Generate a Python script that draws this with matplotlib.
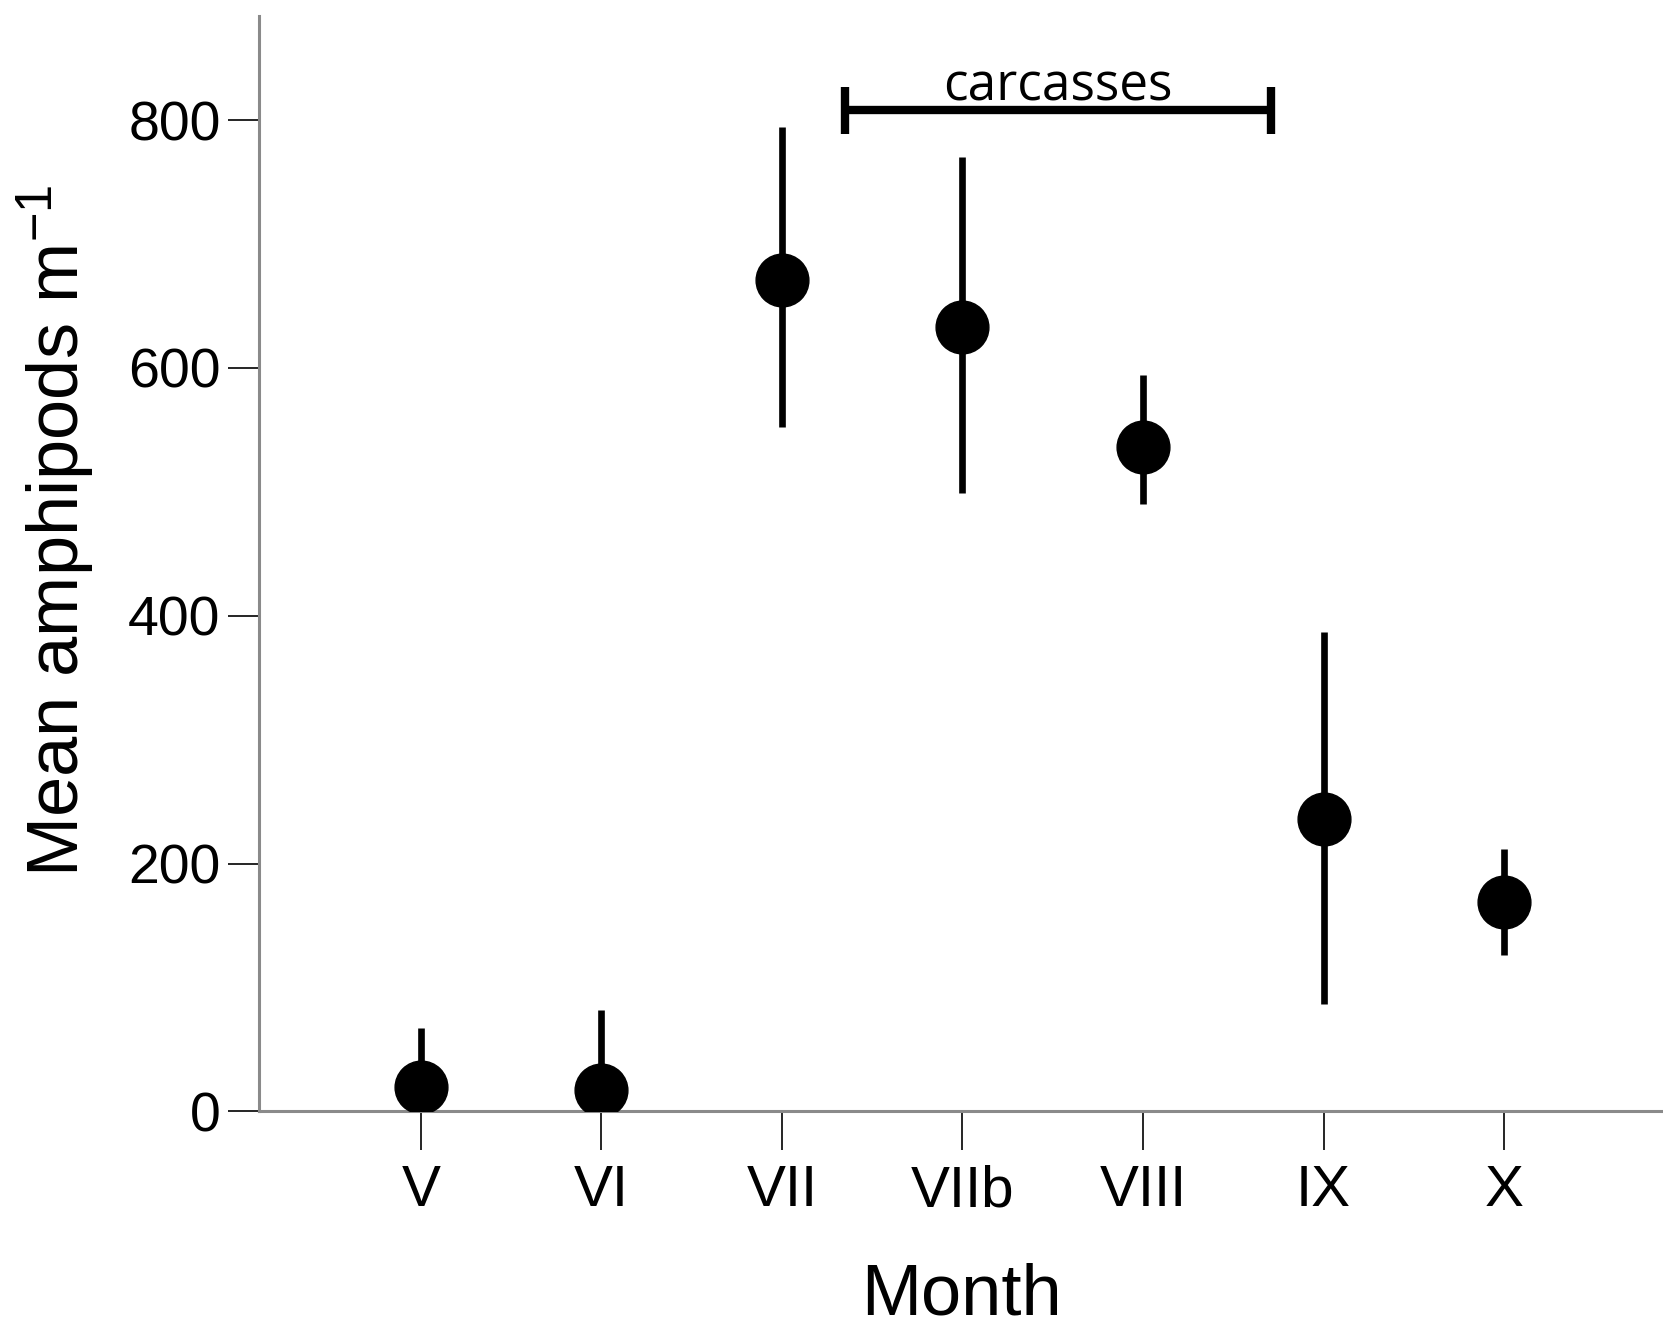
import matplotlib.pyplot as plt
import numpy as np

plt.rcParams['font.family'] = ['Liberation Sans', 'DejaVu Sans']
plt.rcParams['mathtext.fontset'] = 'custom'
plt.rcParams['mathtext.rm'] = 'Liberation Sans'
plt.rcParams['mathtext.it'] = 'Liberation Sans'

# data
months = ['V', 'VI', 'VII', 'VIIb', 'VIII', 'IX', 'X']
means = [20, 17, 671, 633, 536, 236, 169]
upper = [67, 82, 794, 770, 594, 387, 212]
lower = [-27, -48, 552, 499, 490, 87, 126]
carc_start = 3.35
carc_end = 5.71
carc_level = 808

x = np.arange(1, len(months) + 1)
means = np.array(means)
yerr = [means - np.array(lower), np.array(upper) - means]

fig = plt.figure(figsize=(16.63, 13.31), dpi=100)
ax = fig.add_axes([0.156, 0.165, 0.844, 0.823])

ax.errorbar(x, means, yerr=yerr, fmt='o', color='black', ms=38,
            elinewidth=4.8, capsize=0, zorder=3, clip_on=True)

# carcasses bracket
ax.hlines(carc_level, carc_start, carc_end, color='black', lw=6, zorder=3)
ax.vlines([carc_start, carc_end], carc_level - 19, carc_level + 19,
          color='black', lw=6, zorder=3)
ax.text((carc_start + carc_end) / 2, carc_level + 8, 'carcasses',
        ha='center', va='baseline', fontsize=37, family='Open Sans')

ax.set_xlim(0.106, 7.88)
ax.set_ylim(0, 884)
ax.set_xticks(x)
ax.set_xticklabels(months)
ax.set_yticks([0, 200, 400, 600, 800])

for s in ['top', 'right']:
    ax.spines[s].set_visible(False)
for s in ['left', 'bottom']:
    ax.spines[s].set_color('#8a8a8a')
    ax.spines[s].set_linewidth(2.2)

ax.tick_params(axis='y', direction='out', length=22, width=1.2, color='black',
               pad=6, labelsize=40)
ax.tick_params(axis='x', direction='out', length=28, width=1.2, color='black',
               pad=10, labelsize=42)
for lab in ax.get_xticklabels():
    lab.set_family(['Liberation Sans Narrow', 'Liberation Sans'])

ax.set_ylabel('Mean amphipods m$^{-1}$', fontsize=52, labelpad=22)
ax.yaxis.label.set_y(0.53)
ax.set_xlabel('Month', fontsize=52, labelpad=32)

plt.savefig('out.png', dpi=100)
